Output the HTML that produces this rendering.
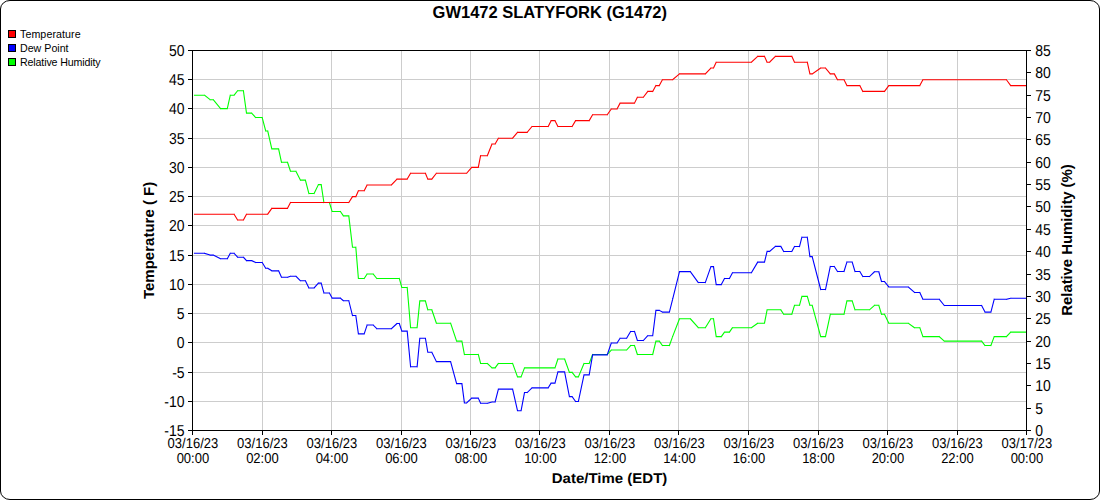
<!DOCTYPE html>
<html><head><meta charset="utf-8"><title>GW1472 SLATYFORK (G1472)</title>
<style>html,body{margin:0;padding:0;background:#fff;}body{width:1100px;height:500px;overflow:hidden;}svg{display:block;}text{font-family:"Liberation Sans",sans-serif;fill:#000;}.gp text{text-rendering:geometricPrecision;}</style></head><body>
<svg width="1100" height="500" viewBox="0 0 1100 500">
<rect x="0" y="0" width="1100" height="500" fill="#fff"/>
<rect x="0.5" y="0.5" width="1099" height="499" rx="9.5" ry="8.5" fill="#fff" stroke="#000" stroke-width="1"/>
<g stroke="#cdcdcd" stroke-width="1" shape-rendering="crispEdges">
<line x1="262.5" y1="50" x2="262.5" y2="430"/>
<line x1="331.5" y1="50" x2="331.5" y2="430"/>
<line x1="401.5" y1="50" x2="401.5" y2="430"/>
<line x1="470.5" y1="50" x2="470.5" y2="430"/>
<line x1="539.5" y1="50" x2="539.5" y2="430"/>
<line x1="609.5" y1="50" x2="609.5" y2="430"/>
<line x1="678.5" y1="50" x2="678.5" y2="430"/>
<line x1="748.5" y1="50" x2="748.5" y2="430"/>
<line x1="818.5" y1="50" x2="818.5" y2="430"/>
<line x1="887.5" y1="50" x2="887.5" y2="430"/>
<line x1="957.5" y1="50" x2="957.5" y2="430"/>
<line x1="192" y1="401.5" x2="1026" y2="401.5"/>
<line x1="192" y1="372.5" x2="1026" y2="372.5"/>
<line x1="192" y1="342.5" x2="1026" y2="342.5"/>
<line x1="192" y1="313.5" x2="1026" y2="313.5"/>
<line x1="192" y1="284.5" x2="1026" y2="284.5"/>
<line x1="192" y1="255.5" x2="1026" y2="255.5"/>
<line x1="192" y1="225.5" x2="1026" y2="225.5"/>
<line x1="192" y1="196.5" x2="1026" y2="196.5"/>
<line x1="192" y1="167.5" x2="1026" y2="167.5"/>
<line x1="192" y1="138.5" x2="1026" y2="138.5"/>
<line x1="192" y1="108.5" x2="1026" y2="108.5"/>
<line x1="192" y1="79.5" x2="1026" y2="79.5"/>
</g>
<g>
<path d="M194.5 95.21L204.5 95.21 M204.5 95.21L210.1 99.68 M210.1 99.68L213.2 99.68 M213.2 99.68L220.6 108.62 M220.6 108.62L227.3 108.62 M227.3 108.62L230.3 95.21 M230.3 95.21L234.1 95.21 M234.1 95.21L237.6 90.74 M237.6 90.74L243.4 90.74 M243.4 90.74L246.5 113.09 M246.5 113.09L251.6 113.09 M251.6 113.09L255.7 117.56 M255.7 117.56L262.2 117.56 M262.2 117.56L265.7 130.97 M265.7 130.97L267.7 130.97 M267.7 130.97L271.8 148.85 M271.8 148.85L278.6 148.85 M278.6 148.85L281.5 162.26 M281.5 162.26L287.5 162.26 M287.5 162.26L290.5 171.21 M290.5 171.21L295.9 171.21 M295.9 171.21L300.5 180.15 M300.5 180.15L305.4 180.15 M305.4 180.15L308.9 193.56 M308.9 193.56L314.1 193.56 M314.1 193.56L318.4 184.62 M318.4 184.62L321.2 184.62 M321.2 184.62L323.9 202.50 M323.9 202.50L329.4 202.50 M329.4 202.50L332.1 211.44 M332.1 211.44L340.4 211.44 M340.4 211.44L343.4 215.91 M343.4 215.91L348.8 215.91 M348.8 215.91L352.5 247.21 M352.5 247.21L355.8 247.21 M355.8 247.21L358.4 278.50 M358.4 278.50L364.2 278.50 M364.2 278.50L367.1 274.03 M367.1 274.03L373.2 274.03 M373.2 274.03L376.8 278.50 M376.8 278.50L399.3 278.50 M399.3 278.50L401.8 287.44 M401.8 287.44L407.2 287.44 M407.2 287.44L410.6 327.68 M410.6 327.68L417.1 327.68 M417.1 327.68L419.8 300.85 M419.8 300.85L425.4 300.85 M425.4 300.85L427.8 309.79 M427.8 309.79L431.8 309.79 M431.8 309.79L436.4 323.21 M436.4 323.21L450.6 323.21 M450.6 323.21L456.6 341.09 M456.6 341.09L461.9 341.09 M461.9 341.09L464.4 354.50 M464.4 354.50L478.3 354.50 M478.3 354.50L480.6 363.44 M480.6 363.44L487.3 363.44 M487.3 363.44L492.0 367.91 M492.0 367.91L495.1 367.91 M495.1 367.91L498.4 363.44 M498.4 363.44L512.6 363.44 M512.6 363.44L517.5 376.85 M517.5 376.85L521.1 376.85 M521.1 376.85L524.5 367.91 M524.5 367.91L555.0 367.91 M555.0 367.91L557.9 358.97 M557.9 358.97L564.6 358.97 M564.6 358.97L569.4 372.38 M569.4 372.38L572.1 372.38 M572.1 372.38L575.6 376.85 M575.6 376.85L578.4 376.85 M578.4 376.85L584.0 363.44 M584.0 363.44L589.2 363.44 M589.2 363.44L592.6 354.50 M592.6 354.50L607.2 354.50 M607.2 354.50L611.3 350.03 M611.3 350.03L626.6 350.03 M626.6 350.03L630.6 345.56 M630.6 345.56L634.5 345.56 M634.5 345.56L637.4 354.50 M637.4 354.50L652.7 354.50 M652.7 354.50L655.9 341.09 M655.9 341.09L659.3 341.09 M659.3 341.09L662.4 345.56 M662.4 345.56L669.4 345.56 M669.4 345.56L672.6 336.62 M672.6 336.62L679.5 318.74 M679.5 318.74L690.3 318.74 M690.3 318.74L698.3 327.68 M698.3 327.68L705.3 327.68 M705.3 327.68L710.9 318.74 M710.9 318.74L713.5 318.74 M713.5 318.74L716.2 336.62 M716.2 336.62L721.3 336.62 M721.3 336.62L724.5 332.15 M724.5 332.15L729.4 332.15 M729.4 332.15L732.5 327.68 M732.5 327.68L751.4 327.68 M751.4 327.68L757.7 323.21 M757.7 323.21L764.5 323.21 M764.5 323.21L767.1 309.79 M767.1 309.79L780.8 309.79 M780.8 309.79L783.7 314.26 M783.7 314.26L791.8 314.26 M791.8 314.26L794.5 305.32 M794.5 305.32L799.5 305.32 M799.5 305.32L801.9 296.38 M801.9 296.38L807.3 296.38 M807.3 296.38L809.9 305.32 M809.9 305.32L812.2 305.32 M812.2 305.32L820.7 336.62 M820.7 336.62L825.5 336.62 M825.5 336.62L830.3 314.26 M830.3 314.26L844.0 314.26 M844.0 314.26L846.9 300.85 M846.9 300.85L852.2 300.85 M852.2 300.85L855.0 309.79 M855.0 309.79L869.5 309.79 M869.5 309.79L874.5 305.32 M874.5 305.32L878.8 305.32 M878.8 305.32L881.5 314.26 M881.5 314.26L884.5 314.26 M884.5 314.26L888.8 323.21 M888.8 323.21L908.2 323.21 M908.2 323.21L914.5 327.68 M914.5 327.68L919.8 327.68 M919.8 327.68L922.9 336.62 M922.9 336.62L939.3 336.62 M939.3 336.62L944.3 341.09 M944.3 341.09L981.6 341.09 M981.6 341.09L985.0 345.56 M985.0 345.56L990.9 345.56 M990.9 345.56L994.2 336.62 M994.2 336.62L1006.4 336.62 M1006.4 336.62L1010.7 332.15 M1010.7 332.15L1025.8 332.15" fill="none" stroke="#00ff00" stroke-width="1.1" stroke-linecap="square"/>
<path d="M194.5 214.19L234.1 214.19 M234.1 214.19L237.6 220.04 M237.6 220.04L243.4 220.04 M243.4 220.04L246.5 214.19 M246.5 214.19L267.7 214.19 M267.7 214.19L271.8 208.35 M271.8 208.35L287.5 208.35 M287.5 208.35L290.5 202.50 M290.5 202.50L348.8 202.50 M348.8 202.50L352.5 196.65 M352.5 196.65L355.8 196.65 M355.8 196.65L358.4 190.81 M358.4 190.81L364.2 190.81 M364.2 190.81L367.1 184.96 M367.1 184.96L391.4 184.96 M391.4 184.96L397.0 179.12 M397.0 179.12L407.2 179.12 M407.2 179.12L410.6 173.27 M410.6 173.27L425.4 173.27 M425.4 173.27L427.8 179.12 M427.8 179.12L431.8 179.12 M431.8 179.12L436.4 173.27 M436.4 173.27L466.6 173.27 M466.6 173.27L471.7 167.42 M471.7 167.42L478.3 167.42 M478.3 167.42L480.6 155.73 M480.6 155.73L487.3 155.73 M487.3 155.73L492.0 144.04 M492.0 144.04L495.1 144.04 M495.1 144.04L498.4 138.19 M498.4 138.19L512.6 138.19 M512.6 138.19L517.5 132.35 M517.5 132.35L527.2 132.35 M527.2 132.35L532.0 126.50 M532.0 126.50L548.2 126.50 M548.2 126.50L551.1 120.65 M551.1 120.65L555.0 120.65 M555.0 120.65L557.9 126.50 M557.9 126.50L572.1 126.50 M572.1 126.50L575.6 120.65 M575.6 120.65L589.2 120.65 M589.2 120.65L592.6 114.81 M592.6 114.81L607.2 114.81 M607.2 114.81L611.3 108.96 M611.3 108.96L617.0 108.96 M617.0 108.96L620.1 103.12 M620.1 103.12L634.5 103.12 M634.5 103.12L637.4 97.27 M637.4 97.27L643.3 97.27 M643.3 97.27L647.8 91.42 M647.8 91.42L652.7 91.42 M652.7 91.42L655.9 85.58 M655.9 85.58L659.3 85.58 M659.3 85.58L662.4 79.73 M662.4 79.73L672.6 79.73 M672.6 79.73L679.5 73.88 M679.5 73.88L705.3 73.88 M705.3 73.88L710.9 68.04 M710.9 68.04L713.5 68.04 M713.5 68.04L716.2 62.19 M716.2 62.19L751.4 62.19 M751.4 62.19L757.7 56.35 M757.7 56.35L764.5 56.35 M764.5 56.35L767.1 62.19 M767.1 62.19L769.6 62.19 M769.6 62.19L775.4 56.35 M775.4 56.35L791.8 56.35 M791.8 56.35L794.5 62.19 M794.5 62.19L807.3 62.19 M807.3 62.19L809.9 73.88 M809.9 73.88L812.2 73.88 M812.2 73.88L820.7 68.04 M820.7 68.04L825.5 68.04 M825.5 68.04L830.3 73.88 M830.3 73.88L834.3 73.88 M834.3 73.88L837.5 79.73 M837.5 79.73L844.0 79.73 M844.0 79.73L846.9 85.58 M846.9 85.58L859.8 85.58 M859.8 85.58L862.8 91.42 M862.8 91.42L884.5 91.42 M884.5 91.42L888.8 85.58 M888.8 85.58L919.8 85.58 M919.8 85.58L922.9 79.73 M922.9 79.73L1006.4 79.73 M1006.4 79.73L1010.7 85.58 M1010.7 85.58L1025.8 85.58" fill="none" stroke="#ff0000" stroke-width="1.1" stroke-linecap="square"/>
<path d="M194.5 253.30L204.5 253.30 M204.5 253.30L210.1 255.09 M210.1 255.09L213.2 255.09 M213.2 255.09L220.6 258.75 M220.6 258.75L227.3 258.75 M227.3 258.75L230.3 253.30 M230.3 253.30L234.1 253.30 M234.1 253.30L237.6 257.19 M237.6 257.19L243.4 257.19 M243.4 257.19L246.5 260.61 M246.5 260.61L251.6 260.61 M251.6 260.61L255.7 262.49 M255.7 262.49L262.2 262.49 M262.2 262.49L265.7 268.29 M265.7 268.29L267.7 268.29 M267.7 268.29L271.8 270.84 M271.8 270.84L278.6 270.84 M278.6 270.84L281.5 277.26 M281.5 277.26L287.5 277.26 M287.5 277.26L290.5 276.19 M290.5 276.19L295.9 276.19 M295.9 276.19L300.5 280.79 M300.5 280.79L305.4 280.79 M305.4 280.79L308.9 287.96 M308.9 287.96L314.1 287.96 M314.1 287.96L318.4 283.14 M318.4 283.14L321.2 283.14 M321.2 283.14L323.9 292.95 M323.9 292.95L329.4 292.95 M329.4 292.95L332.1 298.12 M332.1 298.12L340.4 298.12 M340.4 298.12L343.4 300.77 M343.4 300.77L348.8 300.77 M348.8 300.77L352.5 315.56 M352.5 315.56L355.8 315.56 M355.8 315.56L358.4 333.89 M358.4 333.89L364.2 333.89 M364.2 333.89L367.1 325.06 M367.1 325.06L373.2 325.06 M373.2 325.06L376.8 328.71 M376.8 328.71L391.4 328.71 M391.4 328.71L397.0 323.52 M397.0 323.52L399.3 323.52 M399.3 323.52L401.8 331.14 M401.8 331.14L407.2 331.14 M407.2 331.14L410.6 366.80 M410.6 366.80L417.1 366.80 M417.1 366.80L419.8 338.31 M419.8 338.31L425.4 338.31 M425.4 338.31L427.8 352.22 M427.8 352.22L431.8 352.22 M431.8 352.22L436.4 361.62 M436.4 361.62L450.6 361.62 M450.6 361.62L456.6 383.65 M456.6 383.65L461.9 383.65 M461.9 383.65L464.4 402.93 M464.4 402.93L466.6 402.93 M466.6 402.93L471.7 398.12 M471.7 398.12L478.3 398.12 M478.3 398.12L480.6 403.31 M480.6 403.31L487.3 403.31 M487.3 403.31L492.0 401.97 M492.0 401.97L495.1 401.97 M495.1 401.97L498.4 389.08 M498.4 389.08L512.6 389.08 M512.6 389.08L517.5 410.71 M517.5 410.71L521.1 410.71 M521.1 410.71L524.5 392.56 M524.5 392.56L527.2 392.56 M527.2 392.56L532.0 387.86 M532.0 387.86L548.2 387.86 M548.2 387.86L551.1 383.16 M551.1 383.16L555.0 383.16 M555.0 383.16L557.9 371.83 M557.9 371.83L564.6 371.83 M564.6 371.83L569.4 396.66 M569.4 396.66L572.1 396.66 M572.1 396.66L575.6 401.46 M575.6 401.46L578.4 401.46 M578.4 401.46L584.0 374.87 M584.0 374.87L589.2 374.87 M589.2 374.87L592.6 354.88 M592.6 354.88L607.2 354.88 M607.2 354.88L611.3 343.03 M611.3 343.03L617.0 343.03 M617.0 343.03L620.1 338.21 M620.1 338.21L626.6 338.21 M626.6 338.21L630.6 331.46 M630.6 331.46L634.5 331.46 M634.5 331.46L637.4 340.51 M637.4 340.51L643.3 340.51 M643.3 340.51L647.8 335.72 M647.8 335.72L652.7 335.72 M652.7 335.72L655.9 310.40 M655.9 310.40L659.3 310.40 M659.3 310.40L662.4 312.08 M662.4 312.08L669.4 312.08 M669.4 312.08L672.6 299.27 M672.6 299.27L679.5 271.63 M679.5 271.63L690.3 271.63 M690.3 271.63L698.3 282.57 M698.3 282.57L705.3 282.57 M705.3 282.57L710.9 266.65 M710.9 266.65L713.5 266.65 M713.5 266.65L716.2 284.60 M716.2 284.60L721.3 284.60 M721.3 284.60L724.5 278.53 M724.5 278.53L729.4 278.53 M729.4 278.53L732.5 272.69 M732.5 272.69L751.4 272.69 M751.4 272.69L757.7 262.12 M757.7 262.12L764.5 262.12 M764.5 262.12L767.1 251.40 M767.1 251.40L769.6 251.40 M769.6 251.40L775.4 246.38 M775.4 246.38L780.8 246.38 M780.8 246.38L783.7 251.44 M783.7 251.44L791.8 251.44 M791.8 251.44L794.5 246.52 M794.5 246.52L799.5 246.52 M799.5 246.52L801.9 237.20 M801.9 237.20L807.3 237.20 M807.3 237.20L809.9 256.61 M809.9 256.61L812.2 256.61 M812.2 256.61L820.7 289.49 M820.7 289.49L825.5 289.49 M825.5 289.49L830.3 266.46 M830.3 266.46L834.3 266.46 M834.3 266.46L837.5 271.46 M837.5 271.46L844.0 271.46 M844.0 271.46L846.9 262.06 M846.9 262.06L852.2 262.06 M852.2 262.06L855.0 271.51 M855.0 271.51L859.8 271.51 M859.8 271.51L862.8 276.54 M862.8 276.54L869.5 276.54 M869.5 276.54L874.5 271.76 M874.5 271.76L878.8 271.76 M878.8 271.76L881.5 281.48 M881.5 281.48L884.5 281.48 M884.5 281.48L888.8 286.93 M888.8 286.93L908.2 286.93 M908.2 286.93L914.5 292.45 M914.5 292.45L919.8 292.45 M919.8 292.45L922.9 299.27 M922.9 299.27L939.3 299.27 M939.3 299.27L944.3 305.53 M944.3 305.53L981.6 305.53 M981.6 305.53L985.0 312.08 M985.0 312.08L990.9 312.08 M990.9 312.08L994.2 299.27 M994.2 299.27L1006.4 299.27 M1006.4 299.27L1010.7 298.19 M1010.7 298.19L1025.8 298.19" fill="none" stroke="#0000ff" stroke-width="1.1" stroke-linecap="square"/>
</g>
<g stroke="#000" stroke-width="1" shape-rendering="crispEdges" fill="none">
<rect x="192.5" y="50.5" width="834" height="380"/>
<line x1="188" y1="430.5" x2="192" y2="430.5"/>
<line x1="188" y1="401.5" x2="192" y2="401.5"/>
<line x1="188" y1="372.5" x2="192" y2="372.5"/>
<line x1="188" y1="342.5" x2="192" y2="342.5"/>
<line x1="188" y1="313.5" x2="192" y2="313.5"/>
<line x1="188" y1="284.5" x2="192" y2="284.5"/>
<line x1="188" y1="255.5" x2="192" y2="255.5"/>
<line x1="188" y1="225.5" x2="192" y2="225.5"/>
<line x1="188" y1="196.5" x2="192" y2="196.5"/>
<line x1="188" y1="167.5" x2="192" y2="167.5"/>
<line x1="188" y1="138.5" x2="192" y2="138.5"/>
<line x1="188" y1="108.5" x2="192" y2="108.5"/>
<line x1="188" y1="79.5" x2="192" y2="79.5"/>
<line x1="188" y1="50.5" x2="192" y2="50.5"/>
<line x1="1027" y1="430.5" x2="1031" y2="430.5"/>
<line x1="1027" y1="408.5" x2="1031" y2="408.5"/>
<line x1="1027" y1="385.5" x2="1031" y2="385.5"/>
<line x1="1027" y1="363.5" x2="1031" y2="363.5"/>
<line x1="1027" y1="341.5" x2="1031" y2="341.5"/>
<line x1="1027" y1="318.5" x2="1031" y2="318.5"/>
<line x1="1027" y1="296.5" x2="1031" y2="296.5"/>
<line x1="1027" y1="274.5" x2="1031" y2="274.5"/>
<line x1="1027" y1="251.5" x2="1031" y2="251.5"/>
<line x1="1027" y1="229.5" x2="1031" y2="229.5"/>
<line x1="1027" y1="206.5" x2="1031" y2="206.5"/>
<line x1="1027" y1="184.5" x2="1031" y2="184.5"/>
<line x1="1027" y1="162.5" x2="1031" y2="162.5"/>
<line x1="1027" y1="139.5" x2="1031" y2="139.5"/>
<line x1="1027" y1="117.5" x2="1031" y2="117.5"/>
<line x1="1027" y1="95.5" x2="1031" y2="95.5"/>
<line x1="1027" y1="72.5" x2="1031" y2="72.5"/>
<line x1="1027" y1="50.5" x2="1031" y2="50.5"/>
<line x1="192.5" y1="431" x2="192.5" y2="435"/>
<line x1="262.5" y1="431" x2="262.5" y2="435"/>
<line x1="331.5" y1="431" x2="331.5" y2="435"/>
<line x1="401.5" y1="431" x2="401.5" y2="435"/>
<line x1="470.5" y1="431" x2="470.5" y2="435"/>
<line x1="539.5" y1="431" x2="539.5" y2="435"/>
<line x1="609.5" y1="431" x2="609.5" y2="435"/>
<line x1="678.5" y1="431" x2="678.5" y2="435"/>
<line x1="748.5" y1="431" x2="748.5" y2="435"/>
<line x1="818.5" y1="431" x2="818.5" y2="435"/>
<line x1="887.5" y1="431" x2="887.5" y2="435"/>
<line x1="957.5" y1="431" x2="957.5" y2="435"/>
<line x1="1026.5" y1="431" x2="1026.5" y2="435"/>
</g>
<g font-size="14" text-anchor="end" class="gp">
<text transform="translate(184.6,436) scale(1,1.13)">-15</text>
<text transform="translate(184.6,407) scale(1,1.13)">-10</text>
<text transform="translate(184.6,378) scale(1,1.13)">-5</text>
<text transform="translate(184.6,348) scale(1,1.13)">0</text>
<text transform="translate(184.6,319) scale(1,1.13)">5</text>
<text transform="translate(184.6,290) scale(1,1.13)">10</text>
<text transform="translate(184.6,261) scale(1,1.13)">15</text>
<text transform="translate(184.6,231) scale(1,1.13)">20</text>
<text transform="translate(184.6,202) scale(1,1.13)">25</text>
<text transform="translate(184.6,173) scale(1,1.13)">30</text>
<text transform="translate(184.6,144) scale(1,1.13)">35</text>
<text transform="translate(184.6,114) scale(1,1.13)">40</text>
<text transform="translate(184.6,85) scale(1,1.13)">45</text>
<text transform="translate(184.6,56) scale(1,1.13)">50</text>
</g>
<g font-size="14" text-anchor="start" class="gp">
<text transform="translate(1035.2,436) scale(1,1.13)">0</text>
<text transform="translate(1035.2,414) scale(1,1.13)">5</text>
<text transform="translate(1035.2,391) scale(1,1.13)">10</text>
<text transform="translate(1035.2,369) scale(1,1.13)">15</text>
<text transform="translate(1035.2,347) scale(1,1.13)">20</text>
<text transform="translate(1035.2,324) scale(1,1.13)">25</text>
<text transform="translate(1035.2,302) scale(1,1.13)">30</text>
<text transform="translate(1035.2,280) scale(1,1.13)">35</text>
<text transform="translate(1035.2,257) scale(1,1.13)">40</text>
<text transform="translate(1035.2,235) scale(1,1.13)">45</text>
<text transform="translate(1035.2,212) scale(1,1.13)">50</text>
<text transform="translate(1035.2,190) scale(1,1.13)">55</text>
<text transform="translate(1035.2,168) scale(1,1.13)">60</text>
<text transform="translate(1035.2,145) scale(1,1.13)">65</text>
<text transform="translate(1035.2,123) scale(1,1.13)">70</text>
<text transform="translate(1035.2,101) scale(1,1.13)">75</text>
<text transform="translate(1035.2,78) scale(1,1.13)">80</text>
<text transform="translate(1035.2,56) scale(1,1.13)">85</text>
</g>
<g font-size="13" text-anchor="middle" class="gp">
<text transform="translate(192.90,448) scale(1,1.1)">03/16/23</text><text transform="translate(192.90,463) scale(1,1.1)">00:00</text>
<text transform="translate(262.40,448) scale(1,1.1)">03/16/23</text><text transform="translate(262.40,463) scale(1,1.1)">02:00</text>
<text transform="translate(331.90,448) scale(1,1.1)">03/16/23</text><text transform="translate(331.90,463) scale(1,1.1)">04:00</text>
<text transform="translate(401.40,448) scale(1,1.1)">03/16/23</text><text transform="translate(401.40,463) scale(1,1.1)">06:00</text>
<text transform="translate(470.90,448) scale(1,1.1)">03/16/23</text><text transform="translate(470.90,463) scale(1,1.1)">08:00</text>
<text transform="translate(540.40,448) scale(1,1.1)">03/16/23</text><text transform="translate(540.40,463) scale(1,1.1)">10:00</text>
<text transform="translate(609.90,448) scale(1,1.1)">03/16/23</text><text transform="translate(609.90,463) scale(1,1.1)">12:00</text>
<text transform="translate(679.40,448) scale(1,1.1)">03/16/23</text><text transform="translate(679.40,463) scale(1,1.1)">14:00</text>
<text transform="translate(748.90,448) scale(1,1.1)">03/16/23</text><text transform="translate(748.90,463) scale(1,1.1)">16:00</text>
<text transform="translate(818.40,448) scale(1,1.1)">03/16/23</text><text transform="translate(818.40,463) scale(1,1.1)">18:00</text>
<text transform="translate(887.90,448) scale(1,1.1)">03/16/23</text><text transform="translate(887.90,463) scale(1,1.1)">20:00</text>
<text transform="translate(957.40,448) scale(1,1.1)">03/16/23</text><text transform="translate(957.40,463) scale(1,1.1)">22:00</text>
<text transform="translate(1026.90,448) scale(1,1.1)">03/17/23</text><text transform="translate(1026.90,463) scale(1,1.1)">00:00</text>
</g>
<text x="549.8" y="17.5" font-size="16.5" font-weight="bold" text-anchor="middle" letter-spacing="0">GW1472 SLATYFORK (G1472)</text>
<text transform="translate(609.5,483.1) scale(1,0.94)" font-size="15" font-weight="bold" text-anchor="middle" style="text-rendering:geometricPrecision">Date/Time (EDT)</text>
<text transform="translate(154,240.4) rotate(-90)" font-size="15" font-weight="bold" text-anchor="middle" letter-spacing="0">Temperature ( F)</text>
<text transform="translate(1072,240) rotate(-90)" font-size="15" font-weight="bold" text-anchor="middle" letter-spacing="-0.1">Relative Humidity (%)</text>
<rect x="8.5" y="30.5" width="7" height="7" fill="#ff0000" stroke="#000" stroke-width="1" shape-rendering="crispEdges"/>
<text x="20" y="38" font-size="10.67" letter-spacing="0.08">Temperature</text>
<rect x="8.5" y="44.5" width="7" height="7" fill="#0000ff" stroke="#000" stroke-width="1" shape-rendering="crispEdges"/>
<text x="20" y="52" font-size="10.67" letter-spacing="0">Dew Point</text>
<rect x="8.5" y="58.5" width="7" height="7" fill="#00ff00" stroke="#000" stroke-width="1" shape-rendering="crispEdges"/>
<text x="20" y="66" font-size="10.67" letter-spacing="-0.14">Relative Humidity</text>
</svg></body></html>
